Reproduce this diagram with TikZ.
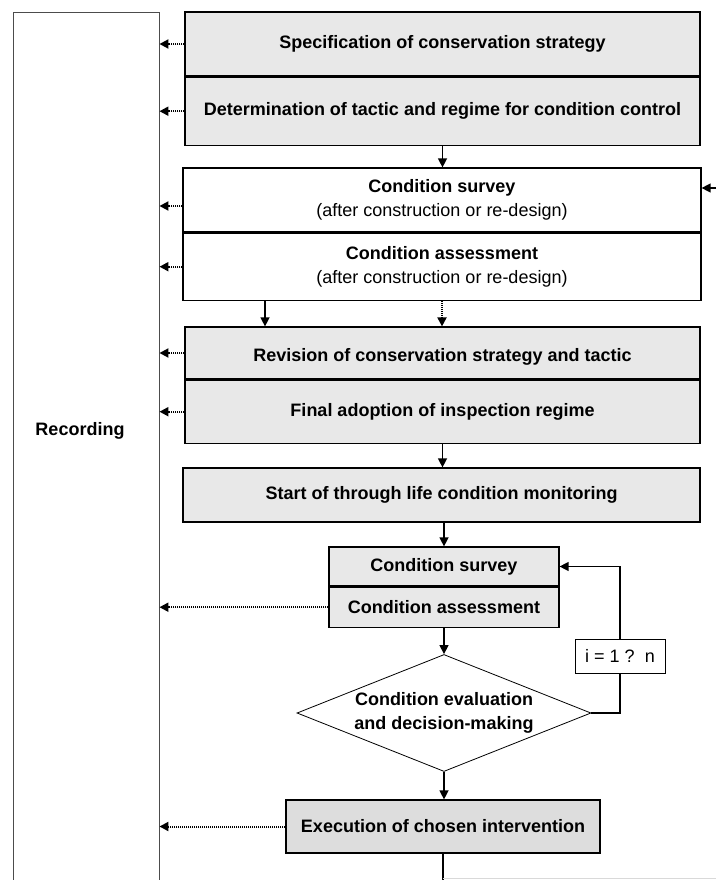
\documentclass[tikz,border=0pt]{standalone}
\usepackage{fontspec}
\setmainfont{Liberation Sans}
\usetikzlibrary{shapes.geometric,positioning,arrows.meta}
\tikzset{
  stage/.style = {draw=black, line width=1.2pt, align=center, inner sep=2pt},
  gstage/.style = {stage, fill=gray!18, font=\bfseries},
  wstage/.style = {stage, fill=white},
  decide/.style = {diamond, aspect=2.5, draw=black, line width=0.8pt, align=center, inner sep=0pt, font=\bfseries},
  counter/.style = {draw=black, line width=0.8pt, fill=white, minimum width=90pt, minimum height=34pt, inner sep=0pt},
  flow/.style = {-{Triangle[length=9pt,width=9pt]}, line width=1.3pt},
  record/.style = {-{Triangle[length=9pt,width=9pt]}, line width=2pt, dash pattern=on 1.2pt off 0.8pt},
}
\begin{document}
\fontsize{18}{24}\selectfont
\begin{tikzpicture}[x=1pt, y=-1pt]
\useasboundingbox (0,0) rectangle (716,880);
\node [draw=gray!60!black, line width=0.9pt, minimum width=146pt, minimum height=892pt] (rec) at (86,458) {};
\node [font=\bfseries] (reclab) at (80,431) {Recording};

\node [gstage, minimum width=515pt, minimum height=64pt] (spec) at (442.5,44) {Specification of conservation strategy};
\node [gstage, minimum width=515pt, minimum height=68pt, below=0pt of spec] (det) {Determination of tactic and regime for condition control};

\node [wstage, minimum width=518pt, minimum height=64pt] (surv) at (442,200) {\textbf{Condition survey}\\(after construction or re-design)};
\node [wstage, minimum width=518pt, minimum height=67pt, below=0pt of surv] (asse) {\textbf{Condition assessment}\\(after construction or re-design)};

\node [gstage, minimum width=515pt, minimum height=52pt, text height=21pt, text depth=4pt] (rev) at (442.5,353) {Revision of conservation strategy and tactic};
\node [gstage, minimum width=515pt, minimum height=63pt, below=0pt of rev] (fin) {Final adoption of inspection regime};

\node [gstage, minimum width=517pt, minimum height=54pt] (start) at (441.5,495) {Start of through life condition monitoring};

\node [gstage, minimum width=230pt, minimum height=39pt] (csurv) at (444,566.5) {Condition survey};
\node [gstage, minimum width=230pt, minimum height=40pt, below=0pt of csurv] (cass) {Condition assessment};

\node [decide, minimum width=294pt, minimum height=117pt] (eval) at (444,713) {Condition evaluation\\and decision-making};
\node [counter] (cnt) at (620,656) {i = 1 ?\ \ n};

\node [gstage, fill=gray!27, minimum width=314pt, minimum height=53pt] (exe) at (443,826.5) {Execution of chosen intervention};

\coordinate (ext) at (716,188);
\coordinate (tail) at (443,884);
\coordinate (edge) at (716,878);

\draw [flow] (det.south) -- (det.south |- surv.north);
\draw [flow] (ext) -- (ext -| surv.east);
\draw [flow] ([xshift=-177pt]asse.south) -- ([xshift=-177pt]asse.south |- rev.north);
\draw [record] (asse.south) -- (asse.south |- rev.north);
\draw [flow] (fin.south) -- (fin.south |- start.north);
\draw [flow] (start.south -| csurv.north) -- (csurv.north);
\draw [flow] (cass.south) -- (eval.north);
\draw [line width=1.3pt] (eval.east) -| (cnt.south);
\draw [flow] (cnt.north) |- (csurv.east);
\draw [flow] (eval.south) -- (eval.south |- exe.north);
\draw [line width=1.3pt] (exe.south) -- (tail);
\draw [gray!30, line width=0.8pt] (edge -| tail) -- (edge);

\foreach \n in {spec,det,asse,rev,fin,cass,exe}
  \draw [record] (\n.west) -- (\n.west -| rec.east);
\draw [record] ([yshift=-6pt]surv.west) -- ([yshift=-6pt]surv.west -| rec.east);
\end{tikzpicture}
\end{document}
